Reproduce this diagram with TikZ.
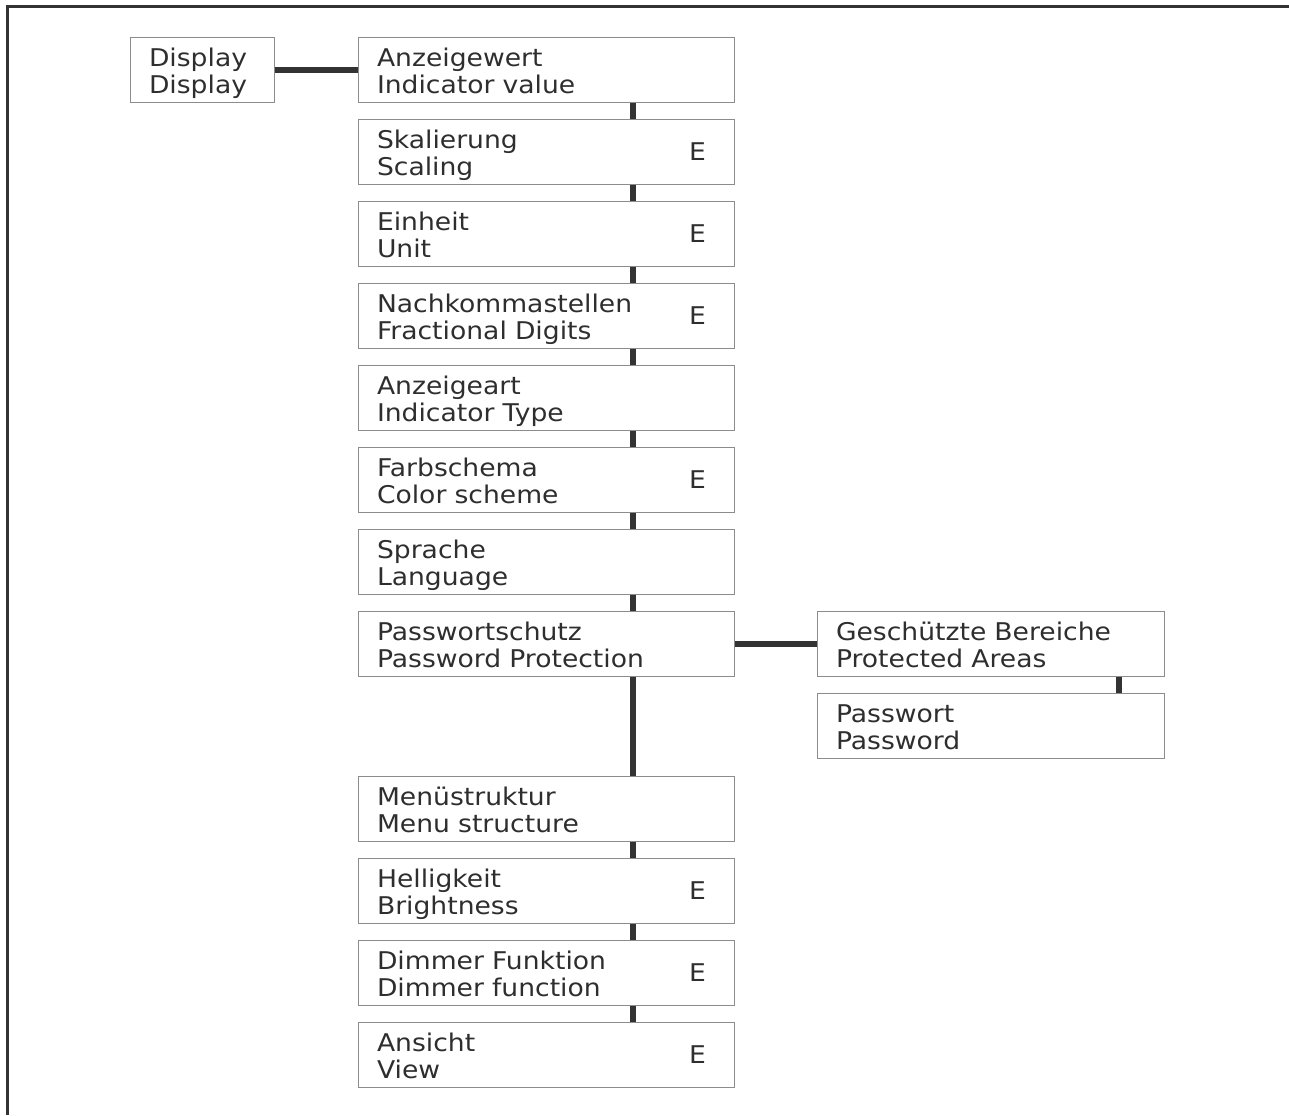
\documentclass[tikz,border=0pt]{standalone}
\usepackage{fontspec}
\setmainfont[FakeStretch=1.09]{DejaVu Sans}
\usetikzlibrary{positioning}
\definecolor{boxline}{HTML}{8C8C8C}
\definecolor{linkcol}{HTML}{333333}
\definecolor{txtcol}{HTML}{2E2E2E}

\begin{document}
\begin{tikzpicture}[x=0.5pt, y=-0.5pt, node distance=8pt]
    % Define styles
    \tikzstyle{menubox} = [rectangle, draw=boxline, line width=0.5pt, minimum width=188pt, minimum height=32.5pt, inner xsep=9.5pt, inner ysep=0pt, text width=169pt, text height=9.5pt, text depth=12.5pt, align=left, text=txtcol, font=\fontsize{12.2}{13.3}\selectfont]
    \tikzstyle{subbox} = [menubox, minimum width=173.5pt, text width=154.5pt]
    \tikzstyle{topbox} = [menubox, minimum width=72pt, text width=53pt]
    \tikzstyle{emark} = [text=txtcol, inner sep=0pt, font=\fontsize{12.2}{13}\selectfont]
    \tikzstyle{link} = [draw=linkcol, line width=3pt]
    \tikzstyle{frame} = [draw=linkcol, line width=1.5pt]

    \useasboundingbox (0,0) rectangle (1289,1115);
    \draw [frame] (7,1115) -- (7,6) -- (1289,6);

    % Nodes
    \node (anz) [menubox] at (546,69.5) {Anzeigewert\\Indicator value};
    \node (disp) [topbox, left=41.5pt of anz] {Display\\Display};
    \node (ska) [menubox, below=of anz] {Skalierung\\Scaling};
    \node (ein) [menubox, below=of ska] {Einheit\\Unit};
    \node (nach) [menubox, below=of ein] {Nachkommastellen\\Fractional Digits};
    \node (art) [menubox, below=of nach] {Anzeigeart\\Indicator Type};
    \node (farb) [menubox, below=of art] {Farbschema\\Color scheme};
    \node (spr) [menubox, below=of farb] {Sprache\\Language};
    \node (pws) [menubox, below=of spr] {Passwortschutz\\Password Protection};
    \node (menu) [menubox, below=49.5pt of pws] {Menüstruktur\\Menu structure};
    \node (hell) [menubox, below=of menu] {Helligkeit\\Brightness};
    \node (dimm) [menubox, below=of hell] {Dimmer Funktion\\Dimmer function};
    \node (ans) [menubox, below=of dimm] {Ansicht\\View};
    \node (gesch) [subbox, right=41pt of pws] {Geschützte Bereiche\\Protected Areas};
    \node (pwd) [subbox, below=of gesch] {Passwort\\Password};

    % E marks
    \foreach \b in {ska, ein, nach, farb, hell, dimm, ans}
        \node (\b-e) [emark] at ([xshift=-18.5pt]\b.east) {E};

    % Connectors
    \draw [link] (disp) -- (anz);
    \draw [link] (pws) -- (gesch);
    \foreach \a/\b in {anz/ska, ska/ein, ein/nach, nach/art, art/farb, farb/spr, spr/pws, pws/menu, menu/hell, hell/dimm, dimm/ans}
        \draw [link] ([xshift=43.5pt]\a.south) -- ([xshift=43.5pt]\b.north);
    \draw [link] ([xshift=64.25pt]gesch.south) -- ([xshift=64.25pt]pwd.north);
\end{tikzpicture}
\end{document}
